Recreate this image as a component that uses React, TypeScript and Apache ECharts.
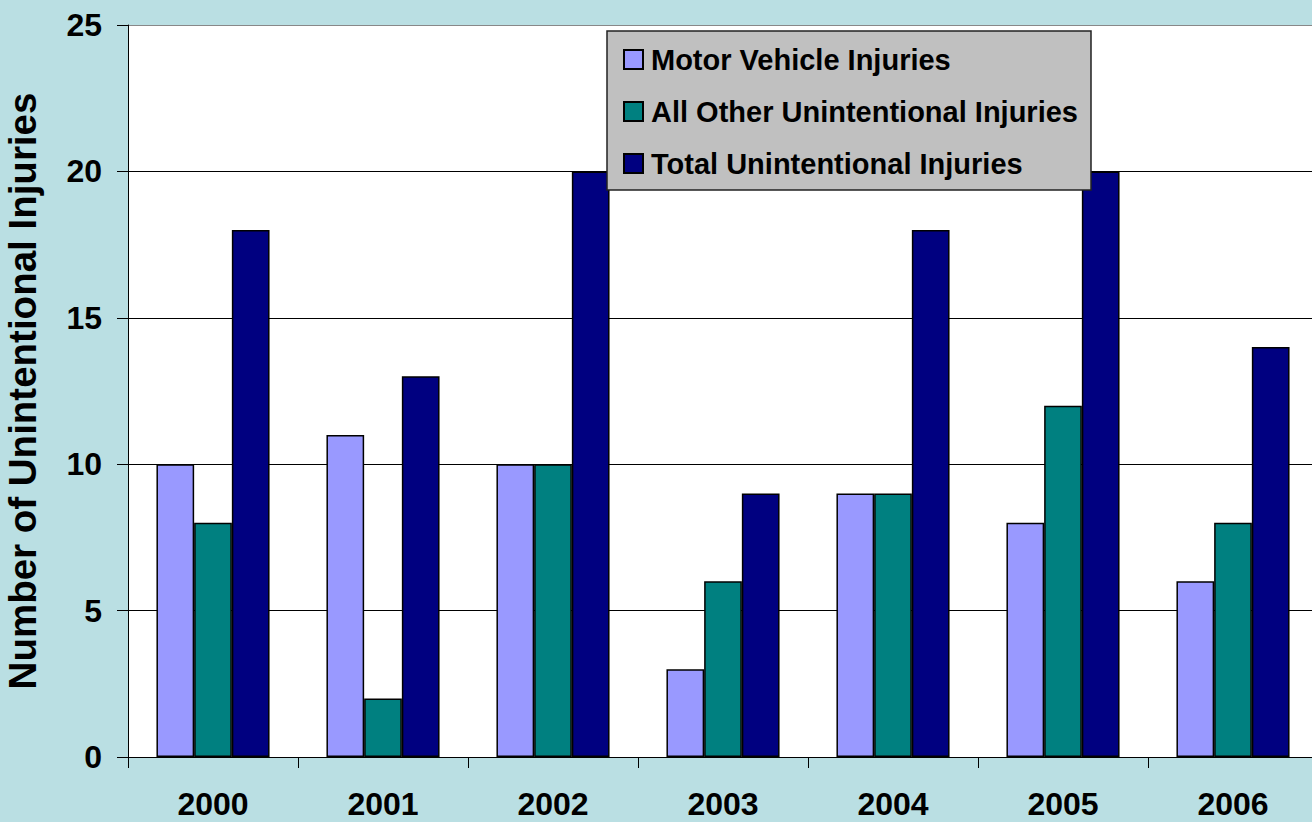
import React, { useEffect, useRef } from "react";
import * as echarts from "echarts";

const years = ["2000", "2001", "2002", "2003", "2004", "2005", "2006"];
const motorVehicle = [10, 11, 10, 3, 9, 8, 6];
const allOther = [8, 2, 10, 6, 9, 12, 8];
const total = [18, 13, 20, 9, 18, 20, 14];
const seriesNames = [
  "Motor Vehicle Injuries",
  "All Other Unintentional Injuries",
  "Total Unintentional Injuries",
];
const seriesColors = ["#9999ff", "#008080", "#000080"];

const FONT = "'Liberation Sans', Arial, sans-serif";

export default function App() {
  const ref = useRef<HTMLDivElement>(null);
  useEffect(() => {
    if (!ref.current) return;
    const chart = echarts.init(ref.current, null, { renderer: "svg" });
    const data = [motorVehicle, allOther, total];
    chart.setOption({
      animation: false,
      backgroundColor: "#badfe3",
      textStyle: { fontFamily: FONT },
      grid: {
        left: 128,
        top: 25,
        width: 1190,
        height: 732,
        show: true,
        backgroundColor: "#ffffff",
        borderWidth: 0,
        containLabel: false,
        outerBoundsMode: "none",
      },
      graphic: [
        {
          type: "rect",
          z: 5,
          shape: { x: 607, y: 31, width: 484, height: 159 },
          style: { fill: "#c0c0c0", stroke: "#222", lineWidth: 1.5 },
        },
      ],
      legend: {
        orient: "vertical",
        left: 623,
        top: 45,
        padding: 0,
        z: 6,
        itemWidth: 19,
        itemHeight: 19,
        itemGap: 23,
        icon: "rect",
        data: seriesNames,
        textStyle: {
          fontFamily: FONT,
          fontWeight: "bold",
          fontSize: 29,
          color: "#000",
          lineHeight: 29,
          padding: [0, 0, 0, 3],
        },
      },
      xAxis: {
        type: "category",
        data: years,
        axisLine: { show: true, lineStyle: { color: "#000", width: 1 } },
        axisTick: {
          show: true,
          alignWithLabel: false,
          length: 11,
          lineStyle: { color: "#000" },
        },
        axisLabel: {
          margin: 34,
          fontFamily: FONT,
          fontWeight: "bold",
          fontSize: 32,
          lineHeight: 26,
          color: "#000",
        },
        splitLine: { show: false },
      },
      yAxis: {
        type: "value",
        min: 0,
        max: 25,
        interval: 5,
        name: "Number of Unintentional Injuries",
        nameLocation: "middle",
        nameGap: 86,
        nameTextStyle: {
          fontFamily: FONT,
          fontWeight: "bold",
          fontSize: 38.5,
          color: "#000",
        },
        axisLine: { show: true, lineStyle: { color: "#000", width: 1 } },
        axisTick: { show: true, length: 11, lineStyle: { color: "#000" } },
        axisLabel: {
          margin: 26,
          fontFamily: FONT,
          fontWeight: "bold",
          fontSize: 32,
          color: "#000",
        },
        splitLine: {
          show: true,
          lineStyle: {
            color: ["#000", "#000", "#000", "#000", "#000", "#888"],
            width: 1,
          },
        },
      },
      series: seriesNames.map((name, i) => ({
        name,
        type: "bar",
        data: data[i],
        barWidth: 37.7,
        barGap: "0%",
        itemStyle: {
          color: seriesColors[i],
          borderColor: "#000",
          borderWidth: 1.5,
        },
      })),
    });
    return () => chart.dispose();
  }, []);
  return (
    <div
      ref={ref}
      style={{ position: "fixed", left: 0, top: 0, width: 1312, height: 822 }}
    />
  );
}
